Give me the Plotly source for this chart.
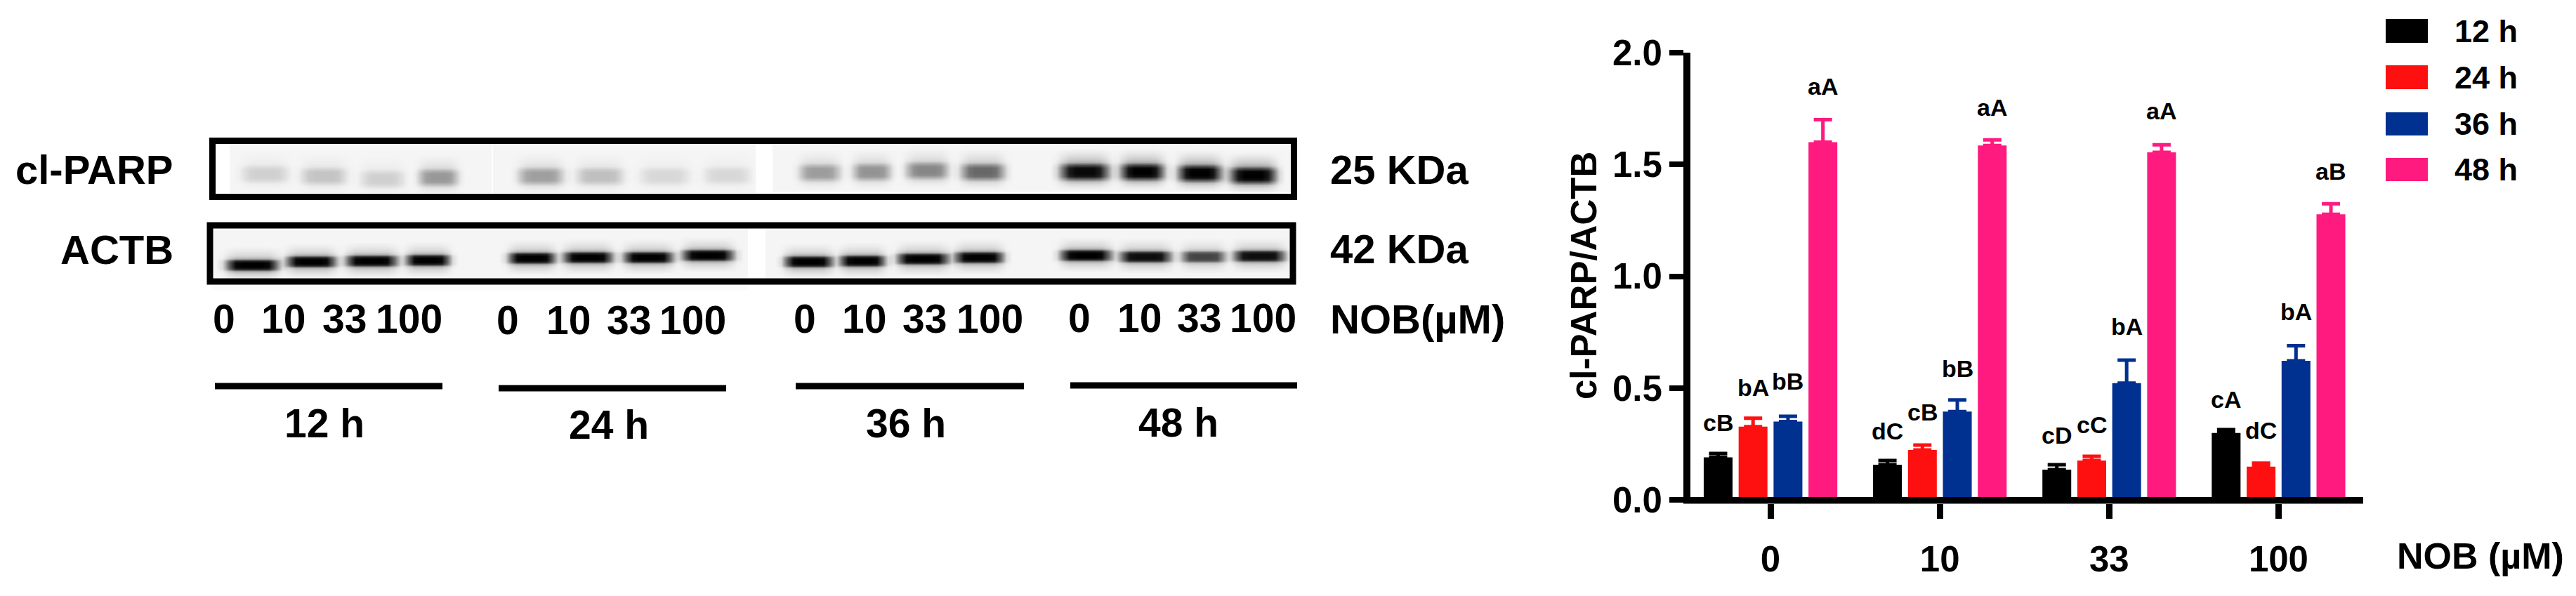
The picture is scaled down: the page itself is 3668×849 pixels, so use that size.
import plotly.graph_objects as go

W, H = 3668, 849
FONT = "Liberation Sans"

# bar chart values
doses = ["0", "10", "33", "100"]
hours = ["12 h", "24 h", "36 h", "48 h"]
colors = ["#000000", "#FF1010", "#003090", "#FF1A80"]

mean_12 = [0.19, 0.157, 0.135, 0.299]
mean_24 = [0.327, 0.223, 0.176, 0.148]
mean_36 = [0.35, 0.395, 0.522, 0.622]
mean_48 = [1.60, 1.585, 1.554, 1.277]

err_12 = [0.017, 0.019, 0.022, 0.015]
err_24 = [0.038, 0.022, 0.019, 0.016]
err_36 = [0.024, 0.052, 0.103, 0.067]
err_48 = [0.10, 0.025, 0.034, 0.047]

letters_12 = ["cB", "dC", "cD", "cA"]
letters_24 = ["bA", "cB", "cC", "dC"]
letters_36 = ["bB", "bB", "bA", "bA"]
letters_48 = ["aA", "aA", "aA", "aB"]

# height of the letter labels, in axis units
letter_y_12 = [0.346, 0.308, 0.289, 0.45]
letter_y_24 = [0.503, 0.393, 0.336, 0.311]
letter_y_36 = [0.531, 0.588, 0.774, 0.84]
letter_y_48 = [1.849, 1.755, 1.739, 1.469]

means = [mean_12, mean_24, mean_36, mean_48]
errs = [err_12, err_24, err_36, err_48]
letters = [letters_12, letters_24, letters_36, letters_48]
letter_ys = [letter_y_12, letter_y_24, letter_y_36, letter_y_48]

# western blot: how dark each lane looks (0 = nothing, 1 = black)
parp_dark = [0.15, 0.2, 0.15, 0.38, 0.35, 0.22, 0.12, 0.12, 0.36, 0.4, 0.45, 0.58, 0.97, 1.0, 1.0, 1.0]
actb_dark = [1.0, 1.0, 1.0, 1.0, 1.0, 1.0, 1.0, 1.0, 1.0, 1.0, 1.0, 1.0, 1.0, 0.95, 0.72, 0.95]

# lane geometry in page pixels
parp_x = [377, 461, 544, 624, 770, 854, 946, 1035, 1167, 1241, 1320, 1399, 1544, 1626, 1708, 1784]
parp_y = [244, 247, 251, 249, 247, 247, 247, 246, 242, 241, 239, 241, 241, 241, 243, 246]
parp_w = [66, 64, 62, 56, 64, 66, 70, 66, 58, 54, 60, 62, 70, 62, 62, 66]
actb_x = [359, 443, 529, 609, 757, 837, 923, 1008, 1151, 1228, 1314, 1394, 1546, 1631, 1713, 1793]
actb_y = [376, 371, 370, 369, 366, 365, 365, 362, 371, 370, 367, 365, 362, 364, 364, 363]
actb_w = [74, 70, 72, 62, 66, 70, 70, 72, 68, 64, 72, 68, 72, 72, 62, 72]

# band shape, top to bottom and left to right
parp_rows = [0, 0.03, 0.07, 0.12, 0.18, 0.3, 0.7, 0.98, 1, 1, 0.95, 0.6, 0.22, 0.1, 0.04, 0]
parp_cols = [0, 0.12, 0.55, 0.92, 1, 1, 1, 1, 0.92, 0.55, 0.12, 0]
actb_rows = [0, 0.02, 0.04, 0.07, 0.1, 0.16, 0.3, 0.85, 1, 1, 1, 0.85, 0.3, 0.16, 0.1, 0.06, 0.03, 0]
actb_cols = [0, 0.1, 0.6, 0.97, 1, 1, 1, 1, 0.97, 0.6, 0.1, 0]

fig = go.Figure()


def add_lanes(xs, ys, widths, dark, rows, cols, row_h):
    for x, y, w, d in zip(xs, ys, widths, dark):
        z = [[r * c * d for c in cols] for r in rows]
        dx = w * 1.4 / (len(cols) - 1)
        fig.add_trace(go.Heatmap(
            z=z, x0=x - dx * (len(cols) - 1) / 2, dx=dx,
            y0=y - row_h * (len(rows) - 1) / 2, dy=row_h,
            zmin=0, zmax=1, zsmooth="best", showscale=False, hoverinfo="skip",
            colorscale=[[0, "rgba(0,0,0,0)"], [1, "rgba(0,0,0,1)"]],
            xaxis="x2", yaxis="y2",
        ))


add_lanes(parp_x, parp_y, parp_w, parp_dark, parp_rows, parp_cols, 4)
add_lanes(actb_x, actb_y, actb_w, actb_dark, actb_rows, actb_cols, 3)

for i, hour in enumerate(hours):
    fig.add_trace(go.Bar(
        x=doses, y=means[i], name=hour, marker=dict(color=colors[i], line=dict(width=0)),
        error_y=dict(type="data", array=errs[i], symmetric=False, arrayminus=[0, 0, 0, 0],
                     color=colors[i], thickness=5, width=13),
    ))


def px_rect(x0, y0, x1, y1, fill=None, line=None, lw=0, layer="above"):
    fig.add_shape(type="rect", xref="x2", yref="y2", x0=x0, y0=y0, x1=x1, y1=y1, layer=layer,
                  fillcolor=fill, line=dict(color=line, width=lw))


def px_text(x, y, text, size=58, anchor="center", angle=0):
    fig.add_annotation(xref="x2", yref="y2", x=x, y=y, text=text, showarrow=False,
                       xanchor=anchor, yanchor="middle", textangle=angle,
                       font=dict(family=FONT, size=size, color="black", weight="bold"))


# gel background
GEL = "#F5F5F5"
for x0, y0, x1, y1 in [(327, 204, 700, 275), (702, 204, 1076, 275), (1100, 204, 1838, 273),
                       (304, 325, 1065, 397), (1090, 325, 1837, 397)]:
    px_rect(x0, y0, x1, y1, fill=GEL, layer="below")
px_rect(303, 406, 1065, 414, fill="#FBFBFB", layer="below")

# blot frames
px_rect(302.5, 200.5, 1842.5, 280.5, line="black", lw=9)
px_rect(299, 321, 1841, 401, line="black", lw=9)

px_text(249, 241, "cl-PARP", anchor="right")
px_text(249, 355, "ACTB", anchor="right")
px_text(1892, 241, "25 KDa", anchor="left")
px_text(1892, 354, "42 KDa", anchor="left")
px_text(1892, 454, "NOB(µM)", anchor="left")

lane_label_x = [319, 403, 490, 582, 723, 809, 895, 986, 1146, 1230, 1316, 1409, 1537, 1622, 1707, 1798]
lane_label_y = [454, 456, 454, 453]
for i, x in enumerate(lane_label_x):
    px_text(x, lane_label_y[i // 4], doses[i % 4], size=57)

group_lines = [(306, 630, 550), (710, 1034, 553), (1133, 1458, 550), (1524, 1847, 549)]
group_label_x = [462, 867, 1290, 1678]
group_label_y = [603, 605, 603, 602]
for i, (x0, x1, y) in enumerate(group_lines):
    px_rect(x0, y - 4.5, x1, y + 4.5, fill="black")
    px_text(group_label_x[i], group_label_y[i], hours[i], size=57)

# bar chart baseline, on top of the bars
px_rect(2397, 708, 3365, 717.5, fill="black")

# letters above the bars
for s in range(4):
    for g in range(4):
        fig.add_annotation(x=g + (s - 1.5) * 0.206, y=letter_ys[s][g], text=letters[s][g], showarrow=False,
                           xref="x", yref="y", yanchor="middle",
                           font=dict(family=FONT, size=34, color="black", weight="bold"))

px_text(2255, 393, "cl-PARP/ACTB", size=51, angle=-90)
px_text(3411, 792, "NOB (µM)", size=52, anchor="left")

# legend
swatch_y = [(27, 61), (93, 127), (160, 193), (225, 258)]
legend_y = [44, 110, 176, 241]
for i, hour in enumerate(hours):
    px_rect(3397, swatch_y[i][0], 3457, swatch_y[i][1], fill=colors[i])
    px_text(3493, legend_y[i], hour, size=45, anchor="left")

fig.update_layout(
    width=W, height=H, autosize=False, showlegend=False,
    margin=dict(l=0, r=0, t=0, b=0),
    paper_bgcolor="white", plot_bgcolor="rgba(0,0,0,0)",
    barmode="group", bargap=0.175, bargroupgap=0.175,
    font=dict(family=FONT, color="black"),
    xaxis=dict(
        domain=[2407 / W, 3365 / W], range=[-0.473, 3.5], type="category", automargin=False,
        showgrid=False, zeroline=False, showline=False,
        ticks="outside", ticklen=21, tickwidth=9, tickcolor="black", ticklabelstandoff=14,
        tickfont=dict(family=FONT, size=51, color="black", weight="bold"),
        anchor="y",
    ),
    yaxis=dict(
        domain=[(H - 717) / H, (H - 75) / H], range=[-0.0157, 2.0], automargin=False,
        showgrid=False, zeroline=False, showline=True, linewidth=10, linecolor="black",
        ticks="outside", ticklen=20, tickwidth=8, tickcolor="black",
        tickvals=[0, 0.5, 1, 1.5, 2], tickformat=".1f",
        tickfont=dict(family=FONT, size=51, color="black", weight="bold"),
        anchor="x",
    ),
    # page pixel axes for the blot part
    xaxis2=dict(domain=[0, 1], range=[0, W], visible=False, anchor="y2", automargin=False),
    yaxis2=dict(domain=[0, 1], range=[H, 0], visible=False, anchor="x2", automargin=False),
)

fig.write_html("out.html", config={"displayModeBar": False}, post_script="document.body.style.margin='0';")
